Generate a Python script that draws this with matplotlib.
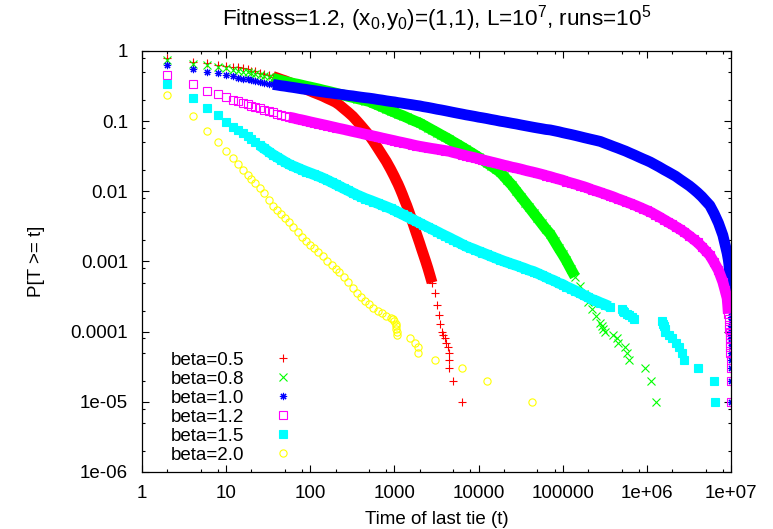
import matplotlib
matplotlib.use('Agg')
import matplotlib.pyplot as plt
from matplotlib.ticker import LogLocator, NullFormatter

plt.rcParams['font.family'] = ['Liberation Sans', 'DejaVu Sans']
plt.rcParams['mathtext.default'] = 'regular'
plt.rcParams['font.size'] = 13.5

# early times (even steps) and a common log grid for the later part of each curve
t_even = [2, 4, 6, 8, 10, 12, 14, 16, 18, 20]
t_grid = [22, 25, 28, 32, 36, 40, 45, 50, 56, 63, 71, 80, 90,
          100, 110, 125, 140, 160, 180, 200, 220, 250, 280, 320, 360, 400, 450, 500, 560, 630, 710, 800, 900,
          1000, 1100, 1250, 1400, 1600, 1800, 2000, 2200, 2500, 2800, 3200, 3600, 4000, 4500, 5000, 5600, 6300, 7100, 8000, 9000,
          1e4, 1.1e4, 1.25e4, 1.4e4, 1.6e4, 1.8e4, 2e4, 2.2e4, 2.5e4, 2.8e4, 3.2e4, 3.6e4, 4e4, 4.5e4, 5e4, 5.6e4, 6.3e4, 7.1e4, 8e4, 9e4,
          1e5, 1.1e5, 1.25e5, 1.4e5, 1.6e5, 1.8e5, 2e5, 2.2e5, 2.5e5, 2.8e5, 3.2e5, 3.6e5, 4e5, 4.5e5, 5e5, 5.6e5, 6.3e5, 7.1e5, 8e5, 9e5,
          1e6, 1.1e6, 1.25e6, 1.4e6, 1.6e6, 1.8e6, 2e6, 2.2e6, 2.5e6, 2.8e6, 3.2e6, 3.6e6, 4e6, 4.5e6, 5e6, 5.6e6, 6.3e6, 7.1e6, 8e6, 9e6]

# beta = 0.5
p05_even = [0.79, 0.70, 0.68, 0.63, 0.611, 0.597, 0.586, 0.567, 0.545, 0.526]
p05_grid = [0.511, 0.491, 0.473, 0.454, 0.433, 0.415, 0.394, 0.378, 0.358, 0.338, 0.318, 0.301, 0.283,
            0.269, 0.256, 0.241, 0.228, 0.211, 0.198, 0.186, 0.172, 0.151, 0.135, 0.117, 0.100, 0.0866, 0.0733,
            0.063, 0.052, 0.0418, 0.0334, 0.0267, 0.0207,
            0.0162, 0.0128, 0.0089, 0.0063, 0.0040, 0.00262, 0.00181, 0.00128, 0.0008, 0.0005, 0.00024]
t05_tail = [1050, 1170, 1320, 1500, 1700, 1900, 2100, 2350, 2650, 3000, 3350, 3500, 3650,
            3800, 3950, 4150, 4300, 4400, 4450, 4500, 5000, 6400]
p05_tail = [0.0143, 0.0108, 0.0075, 0.0050, 0.00322, 0.00217, 0.00151, 0.00101, 0.00063, 0.00035, 0.00017,
            0.00013, 0.0001, 9e-5, 8e-5, 7e-5, 6e-5, 5e-5, 4e-5, 3e-5, 2e-5, 1e-5]

# beta = 0.8
p08_even = [0.75, 0.655, 0.63, 0.60, 0.567, 0.543, 0.524, 0.509, 0.494, 0.483]
p08_grid = [0.472, 0.454, 0.439, 0.421, 0.407, 0.394, 0.380, 0.368, 0.357, 0.345, 0.336, 0.325, 0.314,
            0.306, 0.298, 0.288, 0.278, 0.268, 0.259, 0.251, 0.243, 0.235, 0.226, 0.218, 0.210, 0.204, 0.197,
            0.191, 0.180, 0.170, 0.160, 0.150, 0.141,
            0.134, 0.127, 0.120, 0.113, 0.105, 0.099, 0.094, 0.0883, 0.0811, 0.0752, 0.0689, 0.0636, 0.0594,
            0.0549, 0.0507, 0.0469, 0.0431, 0.0395, 0.0362, 0.0332,
            0.0306, 0.0284, 0.0255, 0.0233, 0.0208, 0.0188, 0.0164, 0.0144, 0.0122, 0.0102, 0.0083, 0.00693,
            0.0059, 0.00491, 0.00417, 0.0035, 0.00291, 0.00247, 0.00195, 0.00154,
            0.00126, 0.00104, 0.00078, 0.00061, 0.00045, 0.00034, 0.000263, 0.000212, 0.000165, 0.000133]
t08_tail = [2.95e5, 3.05e5, 3.2e5, 4.0e5, 4.45e5, 4.6e5, 5.5e5, 5.85e5, 6.2e5, 9.6e5, 1.13e6, 1.29e6]
p08_tail = [1.2e-4, 1.1e-4, 1.0e-4, 9e-5, 8e-5, 7e-5, 6e-5, 5e-5, 4e-5, 3e-5, 2e-5, 1e-5]

# beta = 1.0
p10_even = [0.63, 0.55, 0.50, 0.48, 0.455, 0.435, 0.418, 0.404, 0.393, 0.382]
p10_grid = [0.374, 0.363, 0.353, 0.342, 0.334, 0.328, 0.320, 0.315, 0.308, 0.302, 0.295, 0.288, 0.283,
            0.277, 0.273, 0.266, 0.261, 0.255, 0.251, 0.246, 0.243, 0.238, 0.233, 0.229, 0.224, 0.220, 0.216,
            0.213, 0.209, 0.204, 0.200, 0.195, 0.191,
            0.188, 0.184, 0.180, 0.176, 0.172, 0.168, 0.165, 0.161, 0.157, 0.153, 0.148, 0.1445, 0.141, 0.137,
            0.1335, 0.130, 0.1266, 0.123, 0.120, 0.117,
            0.114, 0.112, 0.109, 0.106, 0.103, 0.100, 0.098, 0.096, 0.0933, 0.0912, 0.0883, 0.086, 0.084,
            0.0818, 0.080, 0.0782, 0.0762, 0.075, 0.0728, 0.0707,
            0.0685, 0.0668, 0.0647, 0.0627, 0.0603, 0.0582, 0.0565, 0.055, 0.0531, 0.0514, 0.0483, 0.0458,
            0.0436, 0.0414, 0.0394, 0.0374, 0.0351, 0.033, 0.0309, 0.029,
            0.0275, 0.0261, 0.024, 0.0223, 0.0203, 0.0188, 0.0175, 0.0164, 0.0147, 0.0134, 0.012, 0.0107,
            0.0096, 0.0084, 0.0073, 0.0063, 0.00483, 0.00353, 0.00237, 0.00131]
t10_tail = [9.3e6, 9.45e6, 9.55e6, 9.65e6, 9.72e6, 9.78e6, 9.82e6, 9.85e6, 9.87e6, 9.89e6, 9.9e6, 9.91e6,
            9.92e6, 9.93e6, 9.94e6, 9.945e6, 9.95e6, 9.955e6, 9.96e6, 9.965e6, 9.97e6, 9.975e6, 9.98e6, 9.99e6, 1e7]
p10_tail = [0.00105, 0.0009, 0.00076, 0.00062, 0.00052, 0.00044, 0.00037, 0.00031, 0.00026, 0.00022, 0.00019,
            0.00016, 0.00014, 0.00012, 0.00011, 1e-4, 9e-5, 8e-5, 7e-5, 6e-5, 5e-5, 4e-5, 3e-5, 2e-5, 1e-5]

# beta = 1.2
p12_even = [0.455, 0.336, 0.272, 0.244, 0.219, 0.201, 0.191, 0.182, 0.173, 0.166]
p12_grid = [0.160, 0.152, 0.146, 0.139, 0.1335, 0.128, 0.123, 0.118, 0.114, 0.111, 0.107, 0.104, 0.1007,
            0.0977, 0.0952, 0.0921, 0.0894, 0.0863, 0.0835, 0.0811, 0.0789, 0.0764, 0.074, 0.0713, 0.0692,
            0.0673, 0.065, 0.0634, 0.0615, 0.0596, 0.0576, 0.0558, 0.0541,
            0.0526, 0.0512, 0.0496, 0.0481, 0.0464, 0.0449, 0.0438, 0.0429, 0.0418, 0.0408, 0.0398, 0.0389,
            0.0381, 0.0372, 0.0358, 0.0347, 0.0334, 0.0322, 0.0311, 0.0301,
            0.0291, 0.0283, 0.0272, 0.0263, 0.0253, 0.0244, 0.0236, 0.023, 0.0221, 0.0215, 0.0207, 0.0199,
            0.0193, 0.0187, 0.0181, 0.0175, 0.0168, 0.0162, 0.0155, 0.0149,
            0.0144, 0.0138, 0.0132, 0.0127, 0.0121, 0.0116, 0.0111, 0.0106, 0.0101, 0.00964, 0.00912, 0.00871,
            0.00832, 0.00785, 0.0075, 0.00711, 0.00675, 0.00638, 0.00601, 0.00565,
            0.00534, 0.00507, 0.00467, 0.00433, 0.00394, 0.00362, 0.00337, 0.00314, 0.00286, 0.00261, 0.00232,
            0.00207, 0.00187, 0.00163, 0.00142, 0.00123, 0.00097, 0.00075, 0.00051, 0.0003]
t12_tail = [8.5e6, 9.15e6, 9.3e6, 9.4e6, 9.5e6, 9.55e6, 9.6e6, 9.65e6, 9.7e6, 9.75e6, 9.8e6, 9.85e6,
            9.9e6, 9.93e6, 9.96e6, 9.99e6]
p12_tail = [0.00039, 0.000237, 0.00018, 0.00015, 0.000125, 0.00011, 1e-4, 9e-5, 8e-5, 7e-5, 6e-5, 5e-5,
            4e-5, 3e-5, 2e-5, 1e-5]

# beta = 1.5
p15_even = [0.34, 0.215, 0.155, 0.122, 0.0974, 0.0835, 0.0757, 0.0681, 0.0607, 0.0551]
p15_grid = [0.0506, 0.0452, 0.0411, 0.0368, 0.0333, 0.0309, 0.0284, 0.0263, 0.0243, 0.0228, 0.0215, 0.0202, 0.0191,
            0.0182, 0.0174, 0.0164, 0.0155, 0.0144, 0.0134, 0.0126, 0.0119, 0.011, 0.0103, 0.0095, 0.00886,
            0.0084, 0.0079, 0.00754, 0.00716, 0.00677, 0.00638, 0.00604, 0.0057,
            0.00536, 0.00506, 0.00469, 0.00438, 0.00404, 0.00376, 0.00353, 0.00333, 0.00309, 0.00288, 0.00267,
            0.00248, 0.00233, 0.00218, 0.00204, 0.00191, 0.00177, 0.00165, 0.00156, 0.00148,
            0.0014, 0.00134, 0.00126, 0.00119, 0.00112, 0.00106, 0.00101, 0.00097, 0.00092, 0.00088, 0.00083,
            0.00079, 0.00075, 0.00072, 0.00068, 0.00064, 0.0006, 0.00056, 0.00053, 0.00049,
            0.00047, 0.00044, 0.00041, 0.000385, 0.000355, 0.00033, 0.00031, 0.00029, 0.000275, 0.000259,
            0.000243, 0.000228]
t15_tail = [5.06e5, 5.2e5, 5.4e5, 5.8e5, 6.2e5, 6.6e5, 6.95e5, 1.51e6, 1.55e6, 1.6e6, 1.63e6, 1.65e6,
            1.85e6, 2.0e6, 2.2e6, 2.4e6, 2.6e6, 2.75e6, 4.1e6, 6.2e6, 6.5e6]
p15_tail = [2.1e-4, 2.0e-4, 1.9e-4, 1.8e-4, 1.7e-4, 1.6e-4, 1.5e-4, 1.4e-4, 1.3e-4, 1.2e-4, 1.1e-4, 1.0e-4,
            9e-5, 8e-5, 7e-5, 6e-5, 5e-5, 4e-5, 3e-5, 2e-5, 1e-5]

# beta = 2.0
p20_even = [0.236, 0.117, 0.073, 0.051, 0.038, 0.0298, 0.0245, 0.0202, 0.0171, 0.0148]
p20_grid = [0.0133, 0.0111, 0.0094, 0.00754, 0.00618, 0.0054, 0.00469, 0.00414, 0.00362, 0.00312, 0.00266,
            0.00227, 0.00194,
            0.00173, 0.00156, 0.00136, 0.0012, 0.00103, 0.0009, 0.00079, 0.000705, 0.000593, 0.000506,
            0.000417, 0.00035, 0.000313, 0.000275, 0.000246, 0.000218, 0.0002, 0.000183, 0.000168, 0.000155]
t20_tail = [950, 1000, 1030, 1040, 1050, 1060, 1070, 1540, 1760, 1900, 1930, 3050, 6440, 12550, 43000]
p20_tail = [1.5e-4, 1.4e-4, 1.3e-4, 1.2e-4, 1.1e-4, 1.0e-4, 9e-5, 8e-5, 7e-5, 6e-5, 5e-5, 4e-5, 3e-5, 2e-5, 1e-5]

labels = ['beta=0.5', 'beta=0.8', 'beta=1.0', 'beta=1.2', 'beta=1.5', 'beta=2.0']
colours = ['#ff0000', '#00ff00', '#0000ff', '#ff00ff', '#00ffff', '#ffff00']
markers = ['+', 'x', (8, 2, 0), 's', 's', 'o']
filled = [False, False, False, False, True, False]
# t range where the points of a curve are packed so tight they merge into a band
dense = [(36, 2800), (36, 1.4e5), (36, 9.85e6), (56, 9.3e6), (25, 3.6e5), None]
curves = [(p05_even, p05_grid, t05_tail, p05_tail),
          (p08_even, p08_grid, t08_tail, p08_tail),
          (p10_even, p10_grid, t10_tail, p10_tail),
          (p12_even, p12_grid, t12_tail, p12_tail),
          (p15_even, p15_grid, t15_tail, p15_tail),
          (p20_even, p20_grid, t20_tail, p20_tail)]

fig = plt.figure(figsize=(7.73, 5.29), dpi=100)
ax = fig.add_axes([142 / 773, 57 / 529, 589 / 773, 421 / 529])

for (pe, pg, tt, pt), lab, col, mk, fill, rng in zip(curves, labels, colours, markers, filled, dense):
    pts = sorted(zip(t_even + t_grid[:len(pg)] + tt, pe + pg + pt))
    t = [a for a, b in pts]
    p = [b for a, b in pts]
    if rng is not None:
        band = [(a, b) for a, b in pts if rng[0] <= a <= rng[1]]
        ax.plot([a for a, b in band], [b for a, b in band], '-', color=col, lw=7.8,
                solid_capstyle='butt', solid_joinstyle='round')
    ax.plot(t, p, linestyle='none', marker=mk, ms=5.2, mew=0.8, color=col,
            mfc=col if fill else 'none', label=lab)

ax.set_xscale('log')
ax.set_yscale('log')
ax.set_xlim(1, 1e7)
ax.set_ylim(1e-6, 1)

ax.set_xticks([1, 10, 100, 1e3, 1e4, 1e5, 1e6, 1e7],
              labels=['1', '10', '100', '1000', '10000', '100000', '1e+06', '1e+07'])
ax.set_yticks([1e-6, 1e-5, 1e-4, 1e-3, 1e-2, 0.1, 1],
              labels=['1e-06', '1e-05', '0.0001', '0.001', '0.01', '0.1', '1'])
for axis in (ax.xaxis, ax.yaxis):
    axis.set_minor_locator(LogLocator(base=10, subs=(2, 5, 8), numticks=20))
    axis.set_minor_formatter(NullFormatter())

ax.tick_params(which='both', direction='in', top=True, right=True, width=0.8, colors='black')
ax.tick_params(which='major', length=4.8)
ax.tick_params(which='minor', length=2.4)
ax.tick_params(axis='y', pad=10)
ax.tick_params(axis='x', pad=9)
for s in ax.spines.values():
    s.set_linewidth(0.9)

ax.set_xlabel('Time of last tie (t)')
ax.xaxis.set_label_coords(0.5, -0.092)
ax.set_ylabel('P[T >= t]')
ax.yaxis.set_label_coords(-0.165, 0.5)
ax.set_title('Fitness=1.2, (x$_0$,y$_0$)=(1,1), L=10$^7$, runs=10$^5$', pad=18)

ax.legend(loc='lower left', bbox_to_anchor=(0.049, 0.02), markerfirst=False, frameon=False,
          handlelength=2.1, handletextpad=1.0, labelspacing=0.1, borderpad=0, borderaxespad=0,
          numpoints=1)

fig.savefig('out.png', dpi=100)
